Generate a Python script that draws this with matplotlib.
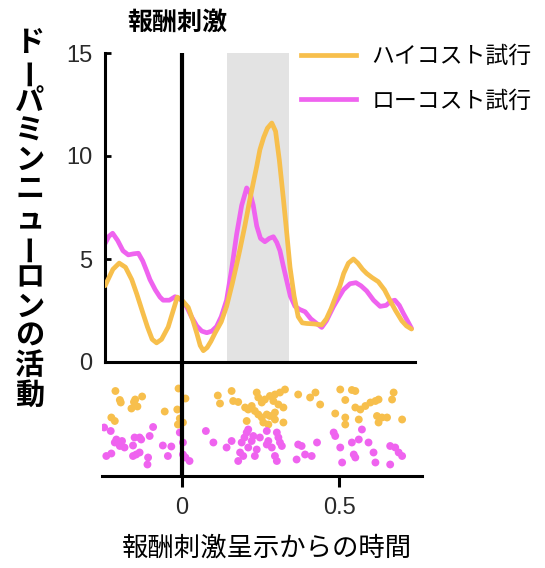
import matplotlib
matplotlib.use("Agg")
import matplotlib.pyplot as plt
from matplotlib.lines import Line2D

# ---------------- data ----------------
# population activity (spikes/s) vs. time from reward cue (s)
high_t = [-0.245, -0.22, -0.20, -0.18, -0.16, -0.144, -0.125, -0.11, -0.095, -0.081,
          -0.065, -0.044, -0.028, -0.015, 0.0, 0.02, 0.035, 0.047, 0.058, 0.068,
          0.08, 0.092, 0.105, 0.125, 0.142, 0.16, 0.175, 0.185, 0.20, 0.215,
          0.227, 0.238, 0.248, 0.26, 0.272, 0.286, 0.298, 0.31, 0.323, 0.334,
          0.344, 0.357, 0.37, 0.383, 0.397, 0.42, 0.445, 0.46, 0.475, 0.49,
          0.503, 0.515, 0.53, 0.546, 0.56, 0.575, 0.588, 0.605, 0.625, 0.645,
          0.662, 0.68, 0.70, 0.715, 0.731]
high_v = [3.7, 4.5, 4.8, 4.6, 4.0, 3.3, 2.4, 1.7, 1.1, 0.93,
          1.1, 1.7, 2.5, 3.15, 3.0, 2.65, 2.0, 1.4, 0.8, 0.55,
          0.7, 1.0, 1.4, 1.95, 2.7, 3.8, 4.8, 5.5, 6.6, 7.8,
          8.7, 9.5, 10.3, 10.9, 11.35, 11.6, 11.2, 9.8, 7.9, 6.2,
          4.6, 3.2, 2.2, 1.9, 1.87, 1.85, 1.8, 2.1, 2.6, 3.2,
          3.7, 4.3, 4.8, 5.0, 4.8, 4.5, 4.3, 4.1, 3.9, 3.5,
          3.0, 2.5, 2.0, 1.75, 1.6]

low_t = [-0.245, -0.233, -0.221, -0.205, -0.188, -0.171, -0.155, -0.139, -0.125, -0.112,
         -0.102, -0.085, -0.07, -0.06, -0.04, -0.022, -0.005, 0.015, 0.03, 0.047,
         0.063, 0.079, 0.095, 0.11, 0.125, 0.142, 0.158, 0.174, 0.19, 0.206,
         0.217, 0.227, 0.238, 0.25, 0.264, 0.278, 0.291, 0.302, 0.312, 0.322,
         0.333, 0.345, 0.36, 0.375, 0.392, 0.41, 0.429, 0.445, 0.46, 0.482,
         0.498, 0.514, 0.535, 0.554, 0.57, 0.588, 0.61, 0.631, 0.65, 0.665,
         0.678, 0.692, 0.705, 0.718, 0.731]
low_v = [5.75, 6.1, 6.25, 5.9, 5.4, 5.2, 5.25, 5.28, 4.9, 4.4,
         4.0, 3.5, 3.15, 3.0, 3.0, 3.17, 3.05, 2.68, 2.2, 1.75,
         1.5, 1.42, 1.5, 1.72, 2.2, 3.0, 4.5, 6.2, 7.6, 8.45,
         8.2, 7.6, 6.6, 6.0, 5.84, 6.0, 6.08, 5.8, 5.4, 4.7,
         3.98, 3.2, 2.7, 2.55, 2.44, 2.1, 1.87, 1.68, 2.0, 2.68,
         3.1, 3.5, 3.8, 3.85, 3.7, 3.45, 3.0, 2.7, 2.75, 2.95,
         3.0, 2.75, 2.36, 2.0, 1.63]

# spike raster: time (s) and trial row
high_spk_t = [-0.212, -0.198, -0.195, -0.161, -0.153, -0.142, -0.149, -0.127, -0.225, -0.214,
              -0.055, -0.011, 0.011, -0.015, -0.007, 0.003, -0.013,
              0.114, 0.121, 0.158, 0.163, 0.179, 0.201, 0.211, 0.206, 0.238, 0.243,
              0.254, 0.264, 0.280, 0.296, 0.312, 0.328, 0.291, 0.307, 0.323, 0.232,
              0.243, 0.254, 0.270, 0.280, 0.296, 0.259, 0.275, 0.296, 0.323, 0.370,
              0.408, 0.222,
              0.425, 0.440, 0.504, 0.520, 0.541, 0.552, 0.552, 0.568, 0.584, 0.600,
              0.616, 0.626, 0.488, 0.520, 0.520, 0.563, 0.621, 0.637, 0.653, 0.626,
              0.674, 0.669, 0.701]
high_spk_y = [17.0, 15.2, 14.7, 13.5, 14.8, 13.9, 15.3, 15.9, 11.7, 11.0,
              12.9, 17.5, 15.5, 13.3, 11.5, 10.7, 10.3,
              16.1, 14.5, 17.0, 15.0, 14.8, 13.7, 13.3, 11.0, 16.7, 15.7,
              14.7, 15.3, 16.0, 16.3, 16.7, 17.3, 15.0, 14.3, 13.7, 13.0,
              12.3, 11.7, 12.3, 12.0, 12.7, 10.7, 10.3, 11.3, 10.7, 16.3,
              15.7, 14.0,
              16.7, 14.3, 17.3, 15.2, 17.2, 17.0, 13.7, 13.3, 14.0, 14.7,
              15.0, 15.3, 12.5, 11.7, 10.3, 11.3, 12.0, 11.7, 11.7, 10.7,
              16.7, 15.3, 11.3]

low_spk_t = [-0.248, -0.227, -0.214, -0.198, -0.209, -0.191, -0.183, -0.241, -0.225, -0.156,
             -0.151, -0.135, -0.130, -0.146, -0.156, -0.135, -0.108, -0.110, -0.103, -0.092,
             -0.061, -0.034, -0.045, -0.007, 0.003, 0.003, 0.011, 0.024,
             0.076, 0.100, 0.142, 0.158, 0.185, 0.190, 0.199, 0.206, 0.211, 0.222,
             0.227, 0.211, 0.195, 0.179, 0.232, 0.238, 0.248, 0.270, 0.275, 0.270,
             0.286, 0.302, 0.307, 0.312, 0.318, 0.296, 0.302, 0.370, 0.381, 0.365,
             0.392, 0.413,
             0.483, 0.488, 0.430, 0.504, 0.541, 0.563, 0.573, 0.594, 0.610, 0.547,
             0.552, 0.510, 0.616, 0.663, 0.679, 0.690, 0.701, 0.663]
low_spk_y = [9.7, 9.0, 6.7, 6.0, 7.3, 7.0, 5.7, 4.0, 4.5, 6.1,
             7.7, 7.7, 7.3, 4.3, 4.0, 4.7, 3.7, 2.3, 8.0, 9.8,
             6.1, 5.9, 4.0, 8.7, 6.7, 4.3, 3.7, 3.0,
             9.0, 6.7, 5.7, 7.0, 4.7, 6.7, 7.7, 8.7, 9.3, 7.0,
             8.0, 5.7, 4.0, 3.0, 4.0, 5.3, 7.7, 9.0, 7.0, 6.3,
             5.7, 8.7, 7.7, 6.7, 6.0, 4.0, 3.0, 6.3, 6.0, 3.3,
             4.3, 4.0,
             8.7, 8.0, 6.7, 5.7, 6.7, 7.3, 9.3, 6.7, 4.7, 4.3,
             3.7, 2.7, 2.7, 6.0, 5.7, 4.7, 4.0, 2.3]

series_labels = ["ハイコスト試行", "ローコスト試行"]
y_ticks = [0, 5, 10, 15]
x_ticks = [0, 0.5]
x_ticklabels = ["0", "0.5"]
window = (0.143, 0.341)
ylabel = "ドーパミンニューロンの活動"
xlabel = "報酬刺激呈示からの時間"
title = "報酬刺激"

# ---------------- style ----------------
ORANGE = "#F7BF4C"
MAGENTA = "#EF63EF"
SHADE = "#E3E3E3"
JP = ["Noto Sans CJK JP", "DejaVu Sans"]
NUM = ["Liberation Sans", "DejaVu Sans"]

W, H = 545, 568
fig = plt.figure(figsize=(W / 100, H / 100), dpi=100)

# common time->pixel mapping: t=0 at x=182 px, 314 px per second
X0, PPS = 182.0, 314.0


def axes_box(x0, x1, ytop, ybot):
    return [x0 / W, 1 - ybot / H, (x1 - x0) / W, (ybot - ytop) / H]


ax = fig.add_axes(axes_box(105, 415, 53, 362))
axr = fig.add_axes(axes_box(102, 422, 362, 476))
ax.set_xlim((105 - X0) / PPS, (415 - X0) / PPS)
axr.set_xlim((102 - X0) / PPS, (422 - X0) / PPS)

# --- activity panel ---
ax.axvspan(window[0], window[1], color=SHADE, lw=0, zorder=0)
ax.plot(high_t, high_v, color=ORANGE, lw=3.4, solid_capstyle="round",
        solid_joinstyle="round", zorder=3)
ax.plot(low_t, low_v, color=MAGENTA, lw=3.4, solid_capstyle="round",
        solid_joinstyle="round", zorder=2)
ax.axvline(0, color="black", lw=3, zorder=4)
ax.set_ylim(0, 15)
ax.set_yticks(y_ticks)
ax.set_yticklabels([str(v) for v in y_ticks], family=NUM, fontsize=17, color="#2a2a2a")
ax.set_xticks([])
ax.tick_params(axis="y", direction="in", length=4, width=2, pad=9)
for s in ("top", "right"):
    ax.spines[s].set_visible(False)
ax.spines["left"].set_linewidth(2.2)
ax.spines["bottom"].set_linewidth(2.2)
ax.patch.set_alpha(0)

handles = [Line2D([], [], color=ORANGE, lw=3.4), Line2D([], [], color=MAGENTA, lw=3.4)]
fig.legend(handles, series_labels, loc="upper left", bbox_to_anchor=(280 / W, 1 - 24 / H),
           frameon=False, handlelength=2.4, handletextpad=0.7, labelspacing=0.95,
           prop={"family": JP, "size": 16.5})

# --- raster panel ---
axr.scatter(high_spk_t, high_spk_y, s=32, color=ORANGE, edgecolors="none", zorder=2)
axr.scatter(low_spk_t, low_spk_y, s=32, color=MAGENTA, edgecolors="none", zorder=2)
axr.axvline(0, color="black", lw=3, zorder=4)
axr.set_ylim(0, 22.8)
axr.set_yticks([])
axr.set_xticks(x_ticks)
axr.set_xticklabels(x_ticklabels, family=NUM, fontsize=17, color="#2a2a2a")
axr.tick_params(axis="x", direction="out", length=8, width=2.2, pad=7)
for s in ("top", "right", "left"):
    axr.spines[s].set_visible(False)
axr.spines["bottom"].set_linewidth(2.2)
axr.patch.set_alpha(0)

# --- texts ---
fig.text(177 / W, 1 - 23 / H, title, ha="center", va="center", family=JP,
         fontsize=18, fontweight="bold")
fig.text(267 / W, 1 - 548 / H, xlabel, ha="center", va="center", family=JP,
         fontsize=19)
for i, ch in enumerate(ylabel):
    fig.text(30 / W, 1 - (42 + i * 29.4) / H, ch, ha="center", va="center", family=JP,
             fontsize=21, fontweight="bold", rotation=90 if ch == "ー" else 0)

fig.savefig("out.png", dpi=100)
